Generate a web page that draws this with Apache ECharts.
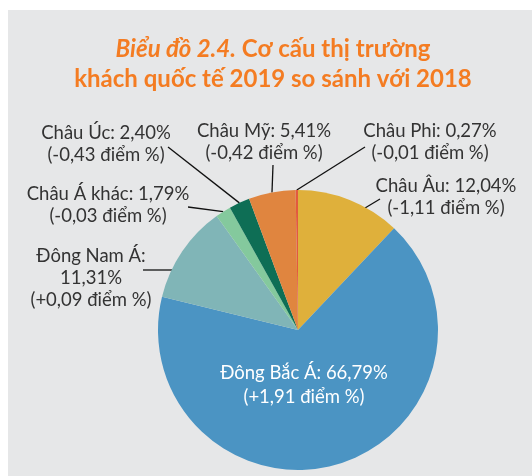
<!DOCTYPE html>
<html>
<head>
<meta charset="utf-8">
<script src="https://cdn.jsdelivr.net/npm/echarts@6/dist/echarts.min.js"></script>
<style>
  html, body { margin: 0; padding: 0; background: #fff; }
  #main { width: 532px; height: 476px; }
</style>
</head>
<body>
<div id="main"></div>
<script>
// du lieu
var names = ['Châu Âu', 'Đông Bắc Á', 'Đông Nam Á', 'Châu Á khác', 'Châu Úc', 'Châu Mỹ', 'Châu Phi'];
var shares = [12.04, 66.79, 11.31, 1.79, 2.40, 5.41, 0.27];
var changes = [-1.11, 1.91, 0.09, -0.03, -0.43, -0.42, -0.01];
var colors = ['#dfb03b', '#4b94c3', '#80b5b7', '#84c99d', '#0e6e55', '#e0853f', '#e25a3e'];

// vi tri nhan: tam chu, diem dau duong dan (phia chu), diem tren mep hinh tron (neu can)
var labelPos = [
    { x: 446, y: 197, from: [380, 199], edge: [365, 208] },
    { x: 304, y: 385 },
    { x: 91, y: 278, from: [143, 270], edge: [172, 270] },
    { x: 108, y: 205, from: [188, 207] },
    { x: 106, y: 144, from: [168, 147] },
    { x: 264, y: 142, from: [273, 165] },
    { x: 430, y: 142, from: [365, 147] }
];

function fmt(v, sign) {
    var s = Math.abs(v).toFixed(2).replace('.', ',');
    if (sign) s = (v < 0 ? '-' : '+') + s;
    return s;
}

var pieData = [];
for (var i = 0; i < names.length; i++) {
    var item = {
        name: names[i],
        value: shares[i],
        itemStyle: { color: colors[i] }
    };
    if (i === 1) {
        item.label = { position: 'inside', color: '#fff', lineHeight: 24 };
        item.labelLine = { show: false };
    }
    pieData.push(item);
}

var myChart = echarts.init(document.getElementById('main'));
var option = {
    backgroundColor: '#fff',
    graphic: [{
        type: 'rect',
        z: -10,
        shape: { x: 8, y: 10, width: 524, height: 466 },
        style: { fill: '#e6e7e8' }
    }],
    title: {
        left: 268,
        textAlign: 'center',
        top: 29,
        text: '{i|Biểu đồ 2.4.} Cơ cấu thị trường\nkhách quốc tế 2019 so sánh với 2018',
        textStyle: {
            fontFamily: 'Lato',
            fontSize: 24,
            fontWeight: 'bold',
            color: '#f47c22',
            lineHeight: 30,
            rich: {
                i: {
                    fontFamily: 'Lato',
                    fontSize: 24,
                    fontStyle: 'italic',
                    fontWeight: 'bold',
                    color: '#f47c22',
                    lineHeight: 30
                }
            }
        }
    },
    series: [{
        type: 'pie',
        center: [298, 330],
        radius: 140,
        startAngle: 90,
        clockwise: true,
        animation: false,
        silent: true,
        itemStyle: { borderWidth: 0 },
        label: {
            show: true,
            fontFamily: 'Lato',
            fontSize: 18.5,
            lineHeight: 22,
            color: '#333',
            align: 'center',
            overflow: 'none',
            formatter: function (p) {
                var k = p.dataIndex;
                var sep = k === 2 ? ':\n' : ': ';
                return p.name + sep + fmt(shares[k]) + '%\n(' + fmt(changes[k], true) + ' điểm %)';
            }
        },
        labelLine: {
            show: true,
            lineStyle: { color: '#111', width: 1.3 }
        },
        labelLayout: function (params) {
            var lp = labelPos[params.dataIndex];
            var res = { x: lp.x, y: lp.y, align: 'center', verticalAlign: 'middle', width: 300 };
            if (lp.from) {
                var edge = lp.edge || (params.labelLinePoints ? params.labelLinePoints[0] : lp.from);
                res.labelLinePoints = [edge, lp.from, lp.from];
            }
            return res;
        },
        data: pieData
    }]
};
myChart.setOption(option);
</script>
</body>
</html>
